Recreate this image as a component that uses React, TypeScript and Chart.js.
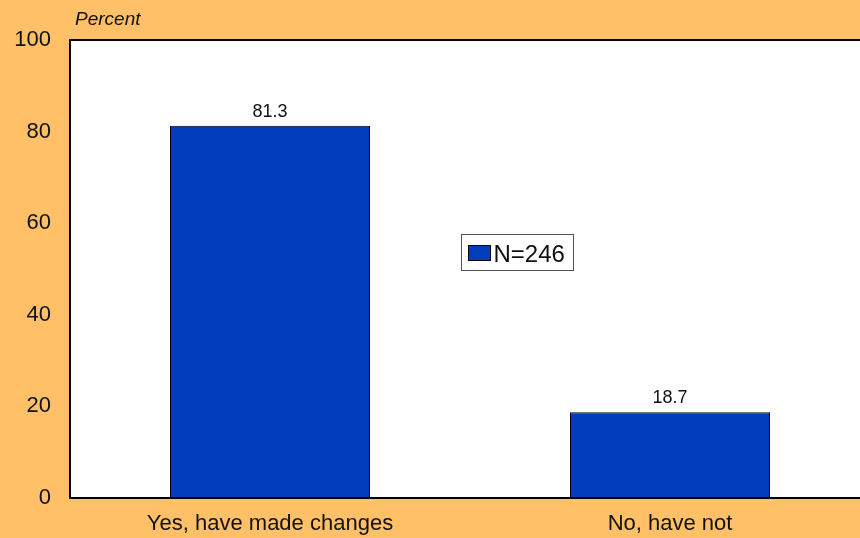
import React, { useEffect, useRef } from "react";
import { Chart, registerables } from "chart.js";

Chart.register(...registerables);

const categories: string[] = ["Yes, have made changes", "No, have not"];
const values: number[] = [81.3, 18.7];
const seriesLabel = "N=246";
const yTicks: number[] = [0, 20, 40, 60, 80, 100];
const axisTitle = "Percent";

const FONT = "'Liberation Sans', Arial, sans-serif";
const ORANGE = "#FFC067";
const BLUE = "#003EBB";

const decorPlugin = {
  id: "decor",
  beforeDraw(chart: any) {
    const { ctx, chartArea } = chart;
    ctx.save();
    ctx.fillStyle = ORANGE;
    ctx.fillRect(0, 0, chart.width, chart.height);
    ctx.fillStyle = "#FFFFFF";
    ctx.fillRect(chartArea.left, chartArea.top, chartArea.right - chartArea.left, chartArea.bottom - chartArea.top);
    ctx.restore();
  },
  afterDatasetsDraw(chart: any) {
    const { ctx, chartArea } = chart;
    ctx.save();
    // borders
    ctx.strokeStyle = "#000";
    ctx.lineWidth = 2;
    ctx.beginPath();
    ctx.moveTo(chartArea.right + 5, chartArea.top);
    ctx.lineTo(chartArea.left, chartArea.top);
    ctx.lineTo(chartArea.left, chartArea.bottom);
    ctx.lineTo(chartArea.right + 5, chartArea.bottom);
    ctx.stroke();

    // data labels
    const meta = chart.getDatasetMeta(0);
    ctx.fillStyle = "#111";
    ctx.font = `18px ${FONT}`;
    ctx.textAlign = "center";
    ctx.textBaseline = "alphabetic";
    meta.data.forEach((el: any, i: number) => {
      const v = chart.data.datasets[0].data[i];
      ctx.fillText(v.toFixed(1), el.x, el.y - 9);
    });

    // axis title
    ctx.font = `italic 19px ${FONT}`;
    ctx.textAlign = "left";
    ctx.fillText(axisTitle, chartArea.left + 5, 25);

    // legend
    const lx = chartArea.left + 391.5;
    const ly = chartArea.top + 194.5;
    ctx.fillStyle = "#fff";
    ctx.fillRect(lx, ly, 112, 36);
    ctx.strokeStyle = "#555";
    ctx.lineWidth = 1;
    ctx.strokeRect(lx, ly, 112, 36);
    ctx.fillStyle = BLUE;
    ctx.fillRect(lx + 7, ly + 11, 22, 15);
    ctx.strokeStyle = "#000";
    ctx.strokeRect(lx + 7, ly + 11, 22, 15);
    ctx.fillStyle = "#111";
    ctx.font = `24px ${FONT}`;
    ctx.textAlign = "left";
    ctx.fillText(chart.data.datasets[0].label, lx + 32, ly + 27.5);
    ctx.restore();
  },
};

export default function App() {
  const ref = useRef<HTMLCanvasElement>(null);
  useEffect(() => {
    if (!ref.current) return;
    const chart = new Chart(ref.current, {
      type: "bar",
      data: {
        labels: categories,
        datasets: [
          {
            label: seriesLabel,
            data: values,
            backgroundColor: BLUE,
            borderColor: "#000",
            borderWidth: 1,
            borderSkipped: false,
            categoryPercentage: 1,
            barPercentage: 0.5,
          },
        ],
      },
      options: {
        animation: false,
        responsive: false,
        devicePixelRatio: 1,
        layout: { padding: { top: 40, left: 0, right: 0, bottom: 0 } },
        plugins: {
          legend: { display: false },
          tooltip: { enabled: false },
        },
        scales: {
          x: {
            grid: { display: false, drawTicks: false },
            border: { display: false },
            ticks: { color: "#111", font: { family: FONT, size: 22 }, padding: 13, maxRotation: 0 },
            afterFit: (s: any) => {
              s.height = 40;
            },
          },
          y: {
            min: 0,
            max: 100,
            afterBuildTicks: (s: any) => {
              s.ticks = yTicks.map((v) => ({ value: v }));
            },
            grid: { display: false, drawTicks: false },
            border: { display: false },
            ticks: { color: "#111", font: { family: FONT, size: 22 }, padding: 19 },
            afterFit: (s: any) => {
              s.width = 70;
            },
          },
        },
      },
      plugins: [decorPlugin],
    });
    return () => chart.destroy();
  }, []);
  return (
    <div
      style={{
        position: "fixed",
        left: 0,
        top: 0,
        width: 860,
        height: 538,
        overflow: "hidden",
        background: ORANGE,
      }}
    >
      <canvas ref={ref} width={870} height={538} style={{ display: "block", width: 870, height: 538 }} />
    </div>
  );
}
